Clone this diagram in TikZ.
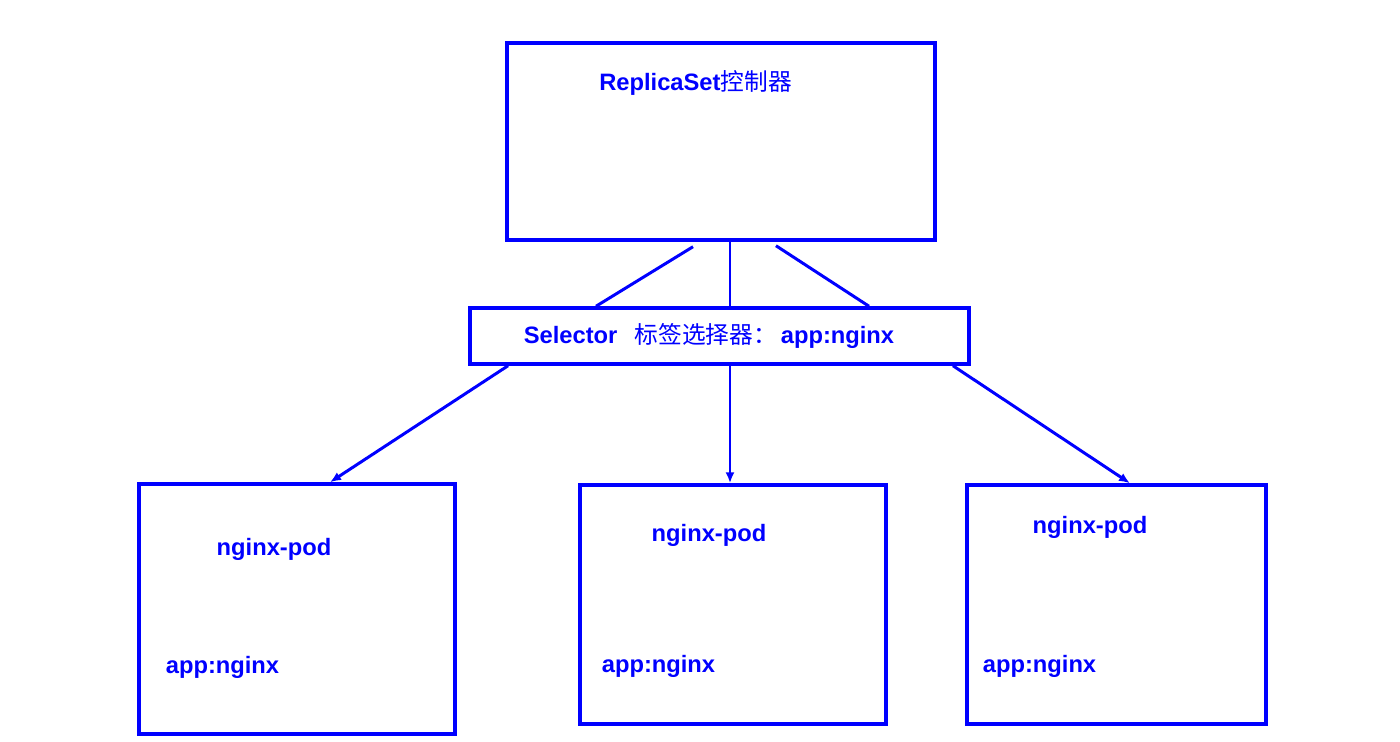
\documentclass[tikz,border=0pt]{standalone}
\usepackage{fontspec}
\setmainfont{Liberation Sans}
\newfontfamily\cjk{Noto Sans CJK SC}
\usetikzlibrary{arrows.meta}
\begin{document}
\begin{tikzpicture}[x=0.02cm, y=-0.02cm, >={Latex[length=2.2mm,width=1.8mm]},
          every node/.style={text=blue, font=\bfseries\fontsize{13.5}{16}\selectfont},
          box/.style={draw=blue, line width=2pt, minimum width=#1, inner sep=0pt},
          link/.style={draw=blue, line width=1.7pt},
          lab/.style={inner sep=1pt}]
        \useasboundingbox (0,0) rectangle (1400,742);
        \node[box=8.56cm, minimum height=3.94cm] (rs)   at (721,141.5)   {};
        \node[box=9.98cm, minimum height=1.12cm] (sel)  at (719.5,336)   {};
        \node[box=6.32cm, minimum height=5.00cm] (pod1) at (297,609)     {};
        \node[box=6.12cm, minimum height=4.78cm] (pod2) at (733,604.5)   {};
        \node[box=5.98cm, minimum height=4.78cm] (pod3) at (1116.5,604.5) {};
        \node[lab] (rstxt)  at (695.5,83) {ReplicaSet{\cjk\mdseries 控制器}};
        \node[lab] (seltxt) at (709,336)  {Selector\ \ \,{\cjk\mdseries 标签选择器：}\,app:nginx};
        \node[lab] (name1) at (274,549)   {nginx-pod};
        \node[lab] (name2) at (709,535)   {nginx-pod};
        \node[lab] (name3) at (1090,527)  {nginx-pod};
        \node[lab] (tag1) at (222.5,667)  {app:nginx};
        \node[lab] (tag2) at (658.5,666)  {app:nginx};
        \node[lab] (tag3) at (1039.5,666) {app:nginx};
        % controller to selector
        \draw[link] ([xshift=-0.56cm,yshift=-0.1cm]rs.south) -- ([xshift=-2.47cm]sel.north);
        \draw[link] ([xshift=0.18cm]rs.south) -- ([xshift=0.18cm]rs.south |- sel.north);
        \draw[link] ([xshift=1.1cm,yshift=-0.08cm]rs.south) -- ([xshift=2.99cm]sel.north);
        % selector to pods
        \draw[link, ->] ([xshift=-4.23cm]sel.south) -- ([xshift=0.66cm]pod1.north);
        \draw[link, ->] ([xshift=0.21cm]sel.south) -- ([xshift=0.21cm]sel.south |- pod2.north);
        \draw[link, ->] ([xshift=4.67cm]sel.south) -- ([xshift=0.27cm]pod3.north);
      \end{tikzpicture}
\end{document}
